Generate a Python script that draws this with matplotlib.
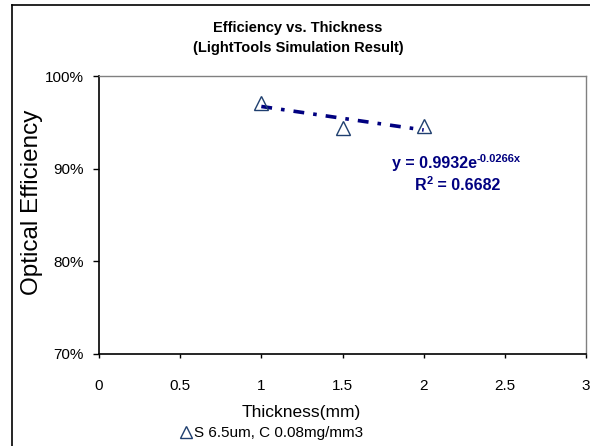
import numpy as np
import matplotlib
matplotlib.use("Agg")
import matplotlib.pyplot as plt
from matplotlib.lines import Line2D
from matplotlib.ticker import FuncFormatter, MultipleLocator

plt.rcParams['font.family'] = ['Liberation Sans', 'DejaVu Sans']

# data
thickness = [1.0, 1.5, 2.0]
efficiency = [0.9714, 0.9434, 0.946]
series_name = "S 6.5um, C 0.08mg/mm3"

# exponential trendline as labelled on the chart
fit_a = 0.9932
fit_b = -0.0266
fit_r2 = 0.6682

W, H = 590, 446
fig = plt.figure(figsize=(W / 100, H / 100), dpi=100)
ax = fig.add_axes([99 / W, 1 - 354 / H, (586 - 99) / W, (354 - 76) / H])

navy = '#000080'
tri_col = '#1F3F6F'

xt = np.linspace(min(thickness), max(thickness), 50)
ax.plot(xt, fit_a * np.exp(fit_b * xt), color=navy, lw=2.6,
        linestyle=(0, (3, 2.5, 1, 2.5)), zorder=2)
ax.plot(thickness, efficiency, linestyle='none', marker='^', ms=9.5,
        mfc='none', mec=tri_col, mew=1.0, zorder=3)

ax.set_xlim(0, 3)
ax.set_ylim(0.7, 1.0)
ax.xaxis.set_major_locator(MultipleLocator(0.5))
ax.yaxis.set_major_locator(MultipleLocator(0.1))
ax.xaxis.set_major_formatter(FuncFormatter(lambda v, p: '%g' % v))
ax.yaxis.set_major_formatter(FuncFormatter(lambda v, p: '%d%%' % round(v * 100)))
ax.tick_params(axis='x', direction='out', length=3, width=1, labelsize=11, pad=15)
ax.tick_params(axis='y', direction='out', length=4, width=1, labelsize=11, pad=7)

for s in ['left', 'bottom']:
    ax.spines[s].set_color('black')
    ax.spines[s].set_linewidth(1.2)
for s in ['top', 'right']:
    ax.spines[s].set_color('#808080')
    ax.spines[s].set_linewidth(1.0)

# trendline label (plain text with a small raised exponent)
eq = ax.text(2.328, 0.906, 'y = %.4fe' % fit_a, color=navy, fontsize=11.5,
             fontweight='bold', ha='right', va='center')
ax.annotate('%.4fx' % fit_b, xy=(1.0, 0.8), xycoords=eq, color=navy,
            fontsize=8, fontweight='bold', ha='left', va='center')
r_txt = ax.text(1.947, 0.882, 'R', color=navy, fontsize=11.5,
                fontweight='bold', ha='left', va='center')
r_sup = ax.annotate('2', xy=(1.0, 0.8), xycoords=r_txt, color=navy,
                    fontsize=8, fontweight='bold', ha='left', va='center')
ax.annotate(' = %.4f' % fit_r2, xy=(1.0, 0.5), xycoords=(r_sup, r_txt),
            color=navy, fontsize=11.5, fontweight='bold', ha='left', va='center')

# title
fig.text(298 / W, 1 - 28 / H, 'Efficiency vs. Thickness', fontsize=10.5,
         fontweight='bold', ha='center', va='center')
fig.text(298 / W, 1 - 48 / H, '(LightTools Simulation Result)', fontsize=10.5,
         fontweight='bold', ha='center', va='center')

# axis labels
fig.text(301 / W, 1 - 412 / H, 'Thickness(mm)', fontsize=12.5,
         ha='center', va='center')
fig.text(32 / W, 1 - 202 / H, 'Optical Efficiency', fontsize=17.5,
         rotation=90, ha='center', va='center')

# legend
handle = Line2D([], [], linestyle='none', marker='^', ms=9, mfc='none',
                mec=tri_col, mew=1.0)
fig.legend([handle], [series_name], loc='center',
           bbox_to_anchor=(272 / W, 1 - 433 / H), frameon=False, fontsize=11,
           handlelength=0.7, handletextpad=0.15, borderpad=0)

# outer chart border
fig.add_artist(Line2D([12 / W, 12 / W], [0, 1 - 5 / H], color='black', lw=1.2))
fig.add_artist(Line2D([12 / W, 1], [1 - 5 / H, 1 - 5 / H], color='black', lw=1.2))

fig.savefig('out.png', dpi=100)
